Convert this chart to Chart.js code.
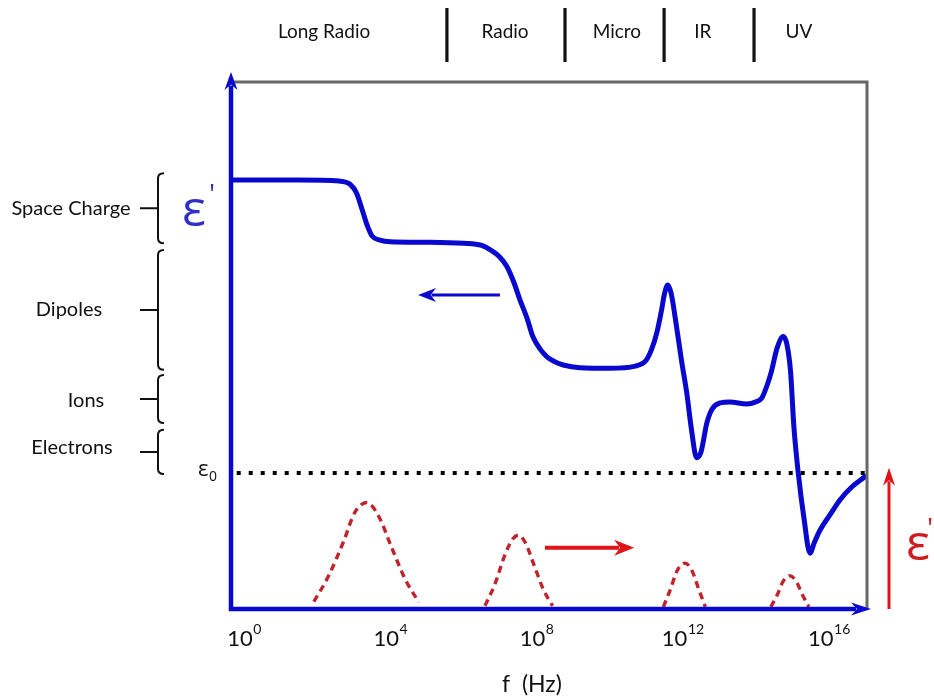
<!DOCTYPE html>
<html><head><meta charset="utf-8">
<script src="https://cdn.jsdelivr.net/npm/chart.js@4/dist/chart.umd.min.js"></script>
<style>html,body{margin:0;padding:0;background:#fff}canvas{display:block}</style>
</head><body>
<canvas id="c" width="934" height="700"></canvas>
<script>
// x values are log10(f / Hz); y is relative permittivity in arbitrary units (0-100)
const realX = [-0.36, 1.5, 2.6, 2.9, 3.08, 3.23, 3.36, 3.5, 3.72, 4.0, 5.0, 6.0, 6.5, 6.75, 6.98, 7.19, 7.38, 7.55, 7.74, 7.9, 8.1, 8.28, 8.5, 8.73, 9.19, 10.0, 10.7, 11.0, 11.15, 11.29, 11.42, 11.5, 11.59, 11.68, 11.83, 11.97, 12.11, 12.24, 12.38, 12.5, 12.66, 12.8, 13.02, 13.29, 13.75, 14.0, 14.16, 14.31, 14.43, 14.58, 14.75, 14.85, 14.95, 15.04, 15.16, 15.32, 15.48, 15.6, 15.75, 16.03, 16.3, 16.63, 16.98];
const realY = [81.4, 81.4, 81.2, 80.6, 78.9, 75.8, 73.0, 70.8, 70.0, 69.7, 69.6, 69.4, 69.0, 68.1, 66.9, 65.0, 62.0, 58.6, 55.2, 51.7, 49.3, 47.9, 46.9, 46.3, 45.8, 45.7, 46.1, 47.2, 49.3, 52.4, 56.7, 59.8, 61.5, 60.0, 53.6, 47.0, 41.0, 34.0, 28.7, 29.8, 35.3, 37.9, 39.1, 39.3, 38.9, 39.3, 40.0, 42.5, 45.2, 49.5, 51.7, 50.2, 45.0, 34.6, 25.8, 17.0, 10.6, 12.6, 14.9, 17.9, 20.7, 23.2, 25.1];
const lossX = [1.91, 2.30, 2.74, 3.02, 3.36, 3.69, 4.03, 4.42, 4.78, 5.6, 6.59, 6.85, 7.15, 7.35, 7.51, 7.70, 7.95, 8.20, 8.44, 10.0, 11.47, 11.65, 11.85, 12.06, 12.25, 12.45, 12.62, 13.5, 14.41, 14.58, 14.75, 14.93, 15.10, 15.28, 15.45];
const lossY = [1.4, 6.1, 13.1, 18.2, 20.2, 17.5, 11.8, 5.5, 1.3, null, 0.6, 4.5, 10.5, 13.3, 14.0, 12.5, 8.0, 3.5, 0.6, null, 0.4, 3.5, 7.3, 8.7, 7.3, 3.5, 0.4, null, 0.4, 2.6, 5.3, 6.3, 5.3, 2.6, 0.4];
const epsilon0 = 25.8;
const epsilon0Span = [-0.2, 17.04];
const tickDecades = [0, 4, 8, 12, 16];
const bandEdges = [5.55, 8.78, 11.49, 13.95];
const bandNames = ['Long Radio', 'Radio', 'Micro', 'IR', 'UV'];
const bandCenters = [2.19, 7.14, 10.2, 12.55, 15.18];
const mechNames = ['Space Charge', 'Dipoles', 'Ions', 'Electrons'];
const mechTop = [82.7, 68.1, 44.4, 34.0];
const mechBottom = [69.4, 45.4, 35.3, 25.6];

const BLUE = '#0808cf';
const RED_DASH = '#c0232a';
const RED = '#e01418';

function head(ctx, tx, ty, dx, dy, len, half) {
  const px = -dy, py = dx;
  ctx.beginPath();
  ctx.moveTo(tx, ty);
  ctx.lineTo(tx - dx * len + px * half, ty - dy * len + py * half);
  ctx.lineTo(tx - dx * len * 0.7, ty - dy * len * 0.7);
  ctx.lineTo(tx - dx * len - px * half, ty - dy * len - py * half);
  ctx.closePath();
  ctx.fill();
}
function arrow(ctx, x1, y1, x2, y2, color, w, len, half) {
  const L = Math.hypot(x2 - x1, y2 - y1), dx = (x2 - x1) / L, dy = (y2 - y1) / L;
  ctx.strokeStyle = color; ctx.fillStyle = color; ctx.lineWidth = w;
  ctx.beginPath(); ctx.moveTo(x1, y1); ctx.lineTo(x2 - dx * len * 0.75, y2 - dy * len * 0.75); ctx.stroke();
  head(ctx, x2, y2, dx, dy, len, half);
}

const deco = {
  id: 'deco',
  afterDatasetsDraw(chart) {
    const { ctx, chartArea: a, scales: { x, y } } = chart;
    ctx.save();
    // frame
    ctx.strokeStyle = '#676767'; ctx.lineWidth = 3;
    ctx.beginPath(); ctx.moveTo(a.left, a.top); ctx.lineTo(a.right, a.top); ctx.lineTo(a.right, a.bottom); ctx.stroke();
    // blue axes with arrow heads
    arrow(ctx, a.left, a.bottom + 2, a.left, a.top - 10, BLUE, 4.5, 18, 6.5);
    arrow(ctx, a.left - 2, a.bottom, a.right + 4, a.bottom, BLUE, 4.5, 20, 6.5);
    // direction arrows
    arrow(ctx, x.getPixelForValue(7.0), y.getPixelForValue(59.6), x.getPixelForValue(4.76), y.getPixelForValue(59.6), BLUE, 3, 18, 7);
    arrow(ctx, x.getPixelForValue(8.23), y.getPixelForValue(11.6), x.getPixelForValue(10.67), y.getPixelForValue(11.6), RED, 4, 20, 8);
    // red vertical arrow on the right
    arrow(ctx, a.right + 22, y.getPixelForValue(0), a.right + 22, y.getPixelForValue(26.8), RED, 3, 18, 6);

    // top band
    ctx.strokeStyle = '#111'; ctx.lineWidth = 3.2;
    bandEdges.forEach(e => {
      const px = x.getPixelForValue(e);
      ctx.beginPath(); ctx.moveTo(px, 8); ctx.lineTo(px, 62); ctx.stroke();
    });
    ctx.fillStyle = '#111'; ctx.font = '19px Lato'; ctx.textAlign = 'center'; ctx.textBaseline = 'middle';
    bandNames.forEach((n, i) => ctx.fillText(n, x.getPixelForValue(bandCenters[i]), 32));

    // mechanism brackets
    const xb = 158;
    const labelX = [71, 69, 86, 72];
    const labelDy = [0, 0, 2, -4];
    ctx.strokeStyle = '#111'; ctx.lineWidth = 2;
    mechNames.forEach((n, i) => {
      const t = y.getPixelForValue(mechTop[i]), b = y.getPixelForValue(mechBottom[i]), m = (t + b) / 2;
      ctx.beginPath();
      ctx.moveTo(xb + 6, t); ctx.quadraticCurveTo(xb, t, xb, t + 5);
      ctx.lineTo(xb, b - 5); ctx.quadraticCurveTo(xb, b, xb + 6, b);
      ctx.moveTo(xb - 18, m); ctx.lineTo(xb, m);
      ctx.stroke();
      ctx.font = '20px Lato'; ctx.fillStyle = '#111';
      ctx.fillText(n, labelX[i], m + labelDy[i]);
    });

    // epsilon labels
    ctx.fillStyle = '#2f2fc8'; ctx.font = '50px "Open Sans"'; ctx.textAlign = 'left';
    ctx.fillText('ε', 182, 212);
    ctx.font = '28px "Open Sans"'; ctx.fillText("'", 209, 196);
    const ey = y.getPixelForValue(epsilon0);
    ctx.fillStyle = '#111'; ctx.font = '22px "Open Sans"';
    const ew = ctx.measureText('ε').width;
    ctx.fillText('ε', 198, ey - 3);
    ctx.font = '14px "Open Sans"'; ctx.fillText('0', 198 + ew + 0.5, ey + 4);
    ctx.fillStyle = '#cc1c20'; ctx.font = '50px "Open Sans"';
    ctx.fillText('ε', 906, 546);
    ctx.font = '28px "Open Sans"'; ctx.fillText("''", 927, 530);

    // x tick labels
    ctx.fillStyle = '#111'; ctx.textBaseline = 'alphabetic';
    tickDecades.forEach(d => {
      const px = x.getPixelForValue(d);
      ctx.font = '22px Lato'; const w1 = ctx.measureText('10').width;
      ctx.font = '14px Lato'; const sup = String(d); const w2 = ctx.measureText(sup).width;
      const x0 = px - (w1 + w2) / 2;
      ctx.font = '22px Lato'; ctx.textAlign = 'left'; ctx.fillText('10', x0, 646);
      ctx.font = '14px Lato'; ctx.fillText(sup, x0 + w1 + 0.5, 634);
    });
    ctx.font = '23px Lato'; ctx.textAlign = 'center';
    ctx.fillText('f  (Hz)', 532, 692);
    ctx.restore();
  }
};

new Chart(document.getElementById('c'), {
  type: 'line',
  data: {
    datasets: [
      {
        data: epsilon0Span.map(v => ({ x: v, y: epsilon0 })),
        borderColor: '#000', borderWidth: 4, borderDash: [4, 8], borderCapStyle: 'butt', pointRadius: 0
      },
      {
        data: lossX.map((v, i) => ({ x: v, y: lossY[i] })),
        borderColor: RED_DASH, borderWidth: 3.4, borderDash: [7, 5], pointRadius: 0,
        cubicInterpolationMode: 'monotone', spanGaps: false
      },
      {
        data: realX.map((v, i) => ({ x: v, y: realY[i] })),
        borderColor: BLUE, borderWidth: 5, pointRadius: 0, borderCapStyle: 'round', borderJoinStyle: 'round',
        cubicInterpolationMode: 'monotone'
      }
    ]
  },
  options: {
    responsive: false, animation: false,
    layout: { padding: { left: 231, right: 67, top: 82, bottom: 91 } },
    scales: {
      x: { type: 'linear', min: -0.356, max: 17.04, display: false },
      y: { min: 0, max: 100, display: false }
    },
    plugins: { legend: { display: false }, tooltip: { enabled: false } }
  },
  plugins: [deco]
});
</script>
</body></html>
